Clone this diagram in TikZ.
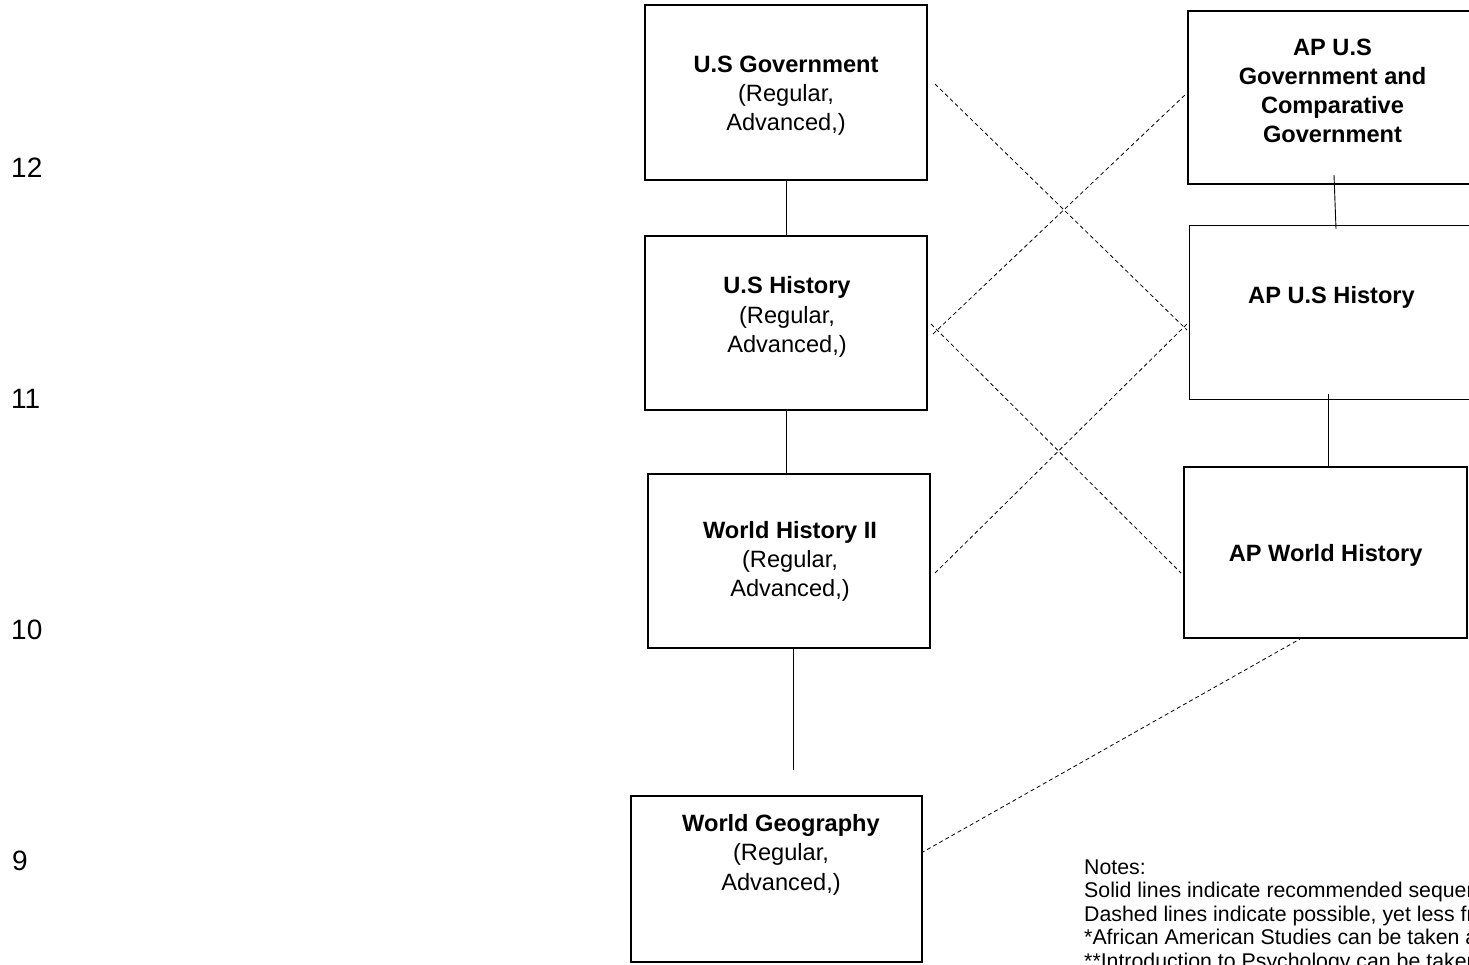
\documentclass[tikz,border=0pt]{standalone}
\usepackage{fontspec}
\setmainfont{Liberation Sans}
\begin{document}
\begin{tikzpicture}[x=1pt,y=-1pt,
  box/.style={draw, line width=1.7pt, inner sep=0pt},
  lbl/.style={align=center, inner sep=0pt, font=\fontsize{23.6}{29.2}\selectfont},
  num/.style={inner sep=0pt, font=\fontsize{28}{30}\selectfont},
  notestext/.style={align=left, inner sep=0pt, font=\fontsize{21.3}{23.6}\selectfont},
  solidline/.style={line width=0.9pt},
  dashline/.style={line width=0.8pt, dash pattern=on 4pt off 3pt}]
\useasboundingbox (0,0) rectangle (1469,964);
\clip (0,0) rectangle (1469,964);

% row labels
\node[num, anchor=base west] (r12) at (11,177.7) {12};
\node[num, anchor=base west] (r11) at (11,408.3) {11};
\node[num, anchor=base west] (r10) at (11,639) {10};
\node[num, anchor=base west] (r9) at (12,870) {9};

% left column boxes
\node[box, minimum width=282pt, minimum height=175pt] (usgov) at (786,92.5) {};
\node[box, minimum width=282pt, minimum height=174pt] (ushist) at (786,323) {};
\node[box, minimum width=282pt, minimum height=174pt] (wh2) at (789,561) {};
\node[box, minimum width=291pt, minimum height=166pt] (wg) at (776.5,879) {};

% text nodes: anchor=base is the baseline of the last line
\node[lbl, anchor=base] (usgovT) at (786,130.7) {\textbf{U.S Government}\\(Regular,\\Advanced,)};
\node[lbl, anchor=base] (ushistT) at (787,352.3) {\textbf{U.S History}\\(Regular,\\Advanced,)};
\node[lbl, anchor=base] (wh2T) at (790,596.5) {\textbf{World History II}\\(Regular,\\Advanced,)};
\node[lbl, anchor=base] (wgT) at (781,890) {\textbf{World Geography}\\(Regular,\\Advanced,)};

% right column boxes
\node[box, minimum width=289pt, minimum height=173pt] (apgov) at (1332.5,97.5) {};
\node[box, minimum width=284pt, minimum height=174pt] (apush) at (1331.5,312.5) {};
\node[box, minimum width=283pt, minimum height=170.5pt] (apwh) at (1325.5,552.5) {};

\node[lbl, anchor=base, font=\bfseries\fontsize{23.6}{29}\selectfont] (apgovT) at (1332.5,142) {AP U.S\\Government and\\Comparative\\Government};
\node[lbl, anchor=base, font=\bfseries\fontsize{23.6}{29}\selectfont] (apushT) at (1331.5,303.3) {AP U.S History};
\node[lbl, anchor=base, font=\bfseries\fontsize{23.6}{29}\selectfont] (apwhT) at (1325.7,561) {AP World History};

% solid connectors
\draw[solidline] (usgov.south) -- (ushist.north);
\draw[solidline] (ushist.south) -- (ushist.south |- wh2.north);
\coordinate (wgend) at (793,770);
\draw[solidline] (wh2.south -| wgend) -- (wgend);
\coordinate (apgovIn) at (1334,175);
\coordinate (apushTop) at (1336,229);
\draw[solidline] (apgovIn) -- (apushTop);
\coordinate (apushIn) at (1328.3,394);
\draw[solidline] (apushIn) -- (apushIn |- apwh.north);

% dashed connectors
\coordinate (a1) at (935,84);   \coordinate (a2) at (1187,330);
\coordinate (b1) at (933,334);  \coordinate (b2) at (1187,93);
\coordinate (c1) at (931,324);  \coordinate (c2) at (1181,573);
\coordinate (d1) at (935,573);  \coordinate (d2) at (1188,323);
\coordinate (e1) at (921,853);  \coordinate (e2) at (1300,639);
\draw[dashline] (a1) -- (a2);
\draw[dashline] (b1) -- (b2);
\draw[dashline] (c1) -- (c2);
\draw[dashline] (d1) -- (d2);
\draw[dashline] (e1) -- (e2);

% notes (anchor at baseline of the last line)
\node[notestext, anchor=base west] (notes) at (1084,968.5) {Notes:\\Solid lines indicate recommended sequence\\Dashed lines indicate possible, yet less frequent sequence\\*African American Studies can be taken as an elective\\**Introduction to Psychology can be taken as an elective};
\end{tikzpicture}
\end{document}
